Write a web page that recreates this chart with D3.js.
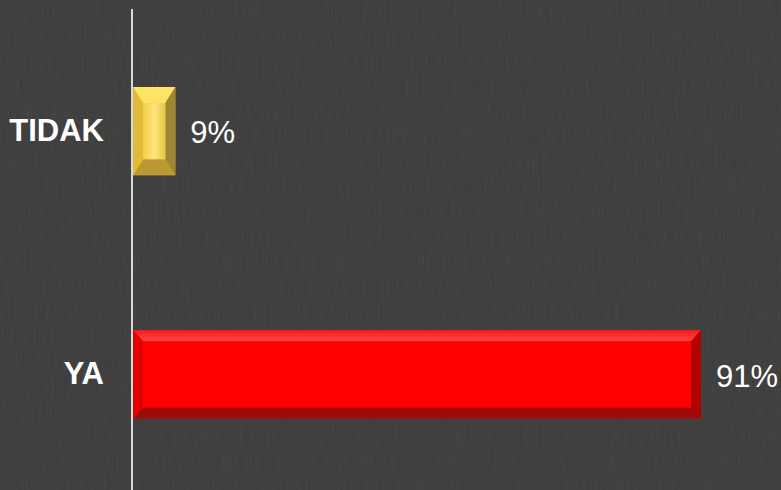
<!DOCTYPE html>
<html><head><meta charset="utf-8">
<script src="https://cdn.jsdelivr.net/npm/d3@7"></script>
<style>html,body{margin:0;padding:0;background:#3b3b3b;}svg{display:block;}</style>
</head><body>
<script>
const categories = ["TIDAK", "YA"];
const values = [9, 91];
const valueLabels = ["9%", "91%"];

const W = 781, H = 490;
const svg = d3.select("body").append("svg").attr("width", W).attr("height", H);
const defs = svg.append("defs");

// subtle texture
const f = defs.append("filter").attr("id","noise").attr("x",0).attr("y",0).attr("width","100%").attr("height","100%");
f.append("feTurbulence").attr("type","fractalNoise").attr("baseFrequency","0.9 0.04").attr("numOctaves",2).attr("seed",3).attr("result","n");
f.append("feColorMatrix").attr("type","matrix").attr("values","0 0 0 0 0.3  0 0 0 0 0.3  0 0 0 0 0.3  0 0 0 0.12 0");
svg.append("rect").attr("width",W).attr("height",H).attr("fill","#3b3b3b");
svg.append("rect").attr("width",W).attr("height",H).attr("filter","url(#noise)");

const gGold = defs.append("linearGradient").attr("id","goldFace").attr("x1",0).attr("x2",1).attr("y1",0).attr("y2",0);
gGold.append("stop").attr("offset",0).attr("stop-color","#f4cc46");
gGold.append("stop").attr("offset",0.5).attr("stop-color","#ffe67a");
gGold.append("stop").attr("offset",1).attr("stop-color","#e9c54c");

const gRedTop = defs.append("linearGradient").attr("id","redTop").attr("x1",0).attr("x2",0).attr("y1",0).attr("y2",1);
gRedTop.append("stop").attr("offset",0).attr("stop-color","#ff1a1a");
gRedTop.append("stop").attr("offset",1).attr("stop-color","#ff4646");

const styles = {
  TIDAK: {face:"url(#goldFace)", top:"#ffe367", left:"#e3bb3a", right:"#9f8632", bottom:"#bb9a33", bx:10, by:16, edge:"#f2c43a"},
  YA:    {face:"#ff0000", top:"url(#redTop)", left:"#e40000", right:"#b00000", bottom:"#9e0a0a", bx:10, by:11, edge:"#ff0000"}
};

const x = d3.scaleLinear().domain([2.4, 91]).range([133, 701]);
const y = d3.scaleBand().domain(categories).range([9.5, 496]).paddingInner(0.638).paddingOuter(0.319);

const data = categories.map((c,i)=>({cat:c, v:values[i], label:valueLabels[i]}));

const bars = svg.append("g").selectAll("g").data(data).join("g");
bars.each(function(d){
  const g = d3.select(this), s = styles[d.cat];
  const x0 = x(x.domain()[0]), x1 = x(d.v), y0 = y(d.cat), y1 = y0 + y.bandwidth();
  const bx = s.bx, by = s.by;
  const poly = pts => pts.map(p=>p.join(",")).join(" ");
  g.append("rect").attr("x",x0).attr("y",y0).attr("width",x1-x0).attr("height",y1-y0).attr("fill",s.edge);
  g.append("polygon").attr("points",poly([[x0,y0],[x1,y0],[x1-bx,y0+by],[x0+bx,y0+by]])).attr("fill",s.top);
  g.append("polygon").attr("points",poly([[x0,y1],[x1,y1],[x1-bx,y1-by],[x0+bx,y1-by]])).attr("fill",s.bottom);
  g.append("polygon").attr("points",poly([[x0,y0],[x0+bx,y0+by],[x0+bx,y1-by],[x0,y1]])).attr("fill",s.left);
  g.append("polygon").attr("points",poly([[x1,y0],[x1-bx,y0+by],[x1-bx,y1-by],[x1,y1]])).attr("fill",s.right);
  g.append("rect").attr("x",x0+bx).attr("y",y0+by).attr("width",Math.max(0,x1-x0-2*bx)).attr("height",y1-y0-2*by).attr("fill",s.face);
  g.append("text").attr("x",x1+15).attr("y",(y0+y1)/2+1).attr("dy","0.36em")
    .attr("font-family","Liberation Sans, Arial, sans-serif").attr("font-size",31).attr("fill","#ffffff").text(d.label);
});

// axis
const axis = svg.append("g").attr("transform","translate(132,0)")
  .call(d3.axisLeft(y).tickSize(0).tickPadding(28));
axis.select(".domain").remove();
axis.selectAll("text").attr("font-family","Liberation Sans, Arial, sans-serif").attr("font-size",31)
  .attr("font-weight","bold").attr("fill","#ffffff");
svg.append("line").attr("x1",132).attr("x2",132).attr("y1",9).attr("y2",H).attr("stroke","#d9d9d9").attr("stroke-width",2);
</script>
</body></html>
